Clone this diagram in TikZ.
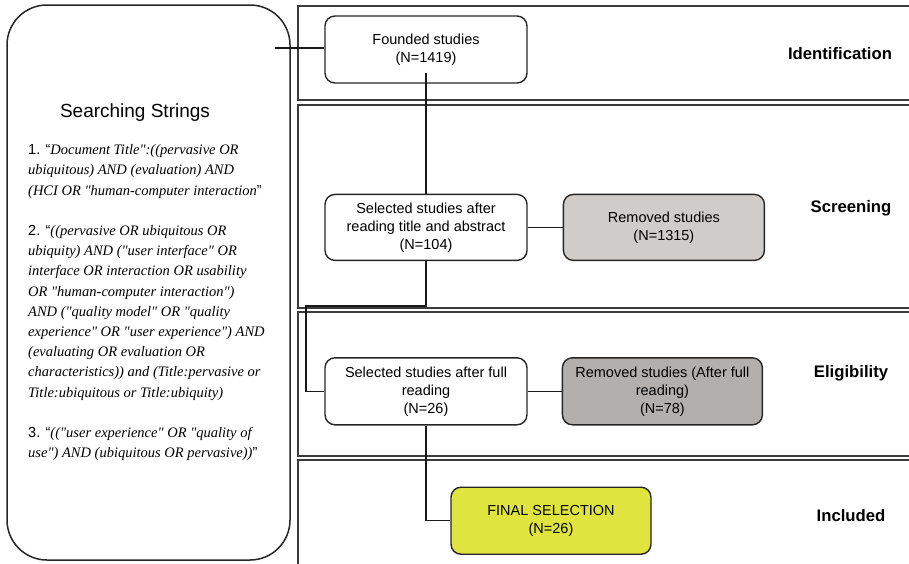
\documentclass[tikz,border=0pt]{standalone}
\usepackage{fontspec}
\setmainfont{Liberation Sans}
\newfontfamily\timesfont{Liberation Serif}
\usetikzlibrary{positioning}
\definecolor{removedlight}{RGB}{207,204,201}
\definecolor{removeddark}{RGB}{178,175,172}
\definecolor{finalyellow}{RGB}{224,228,62}
\definecolor{framegray}{RGB}{60,60,60}
\newcommand{\itemno}[1]{{\normalfont\upshape #1}}

\begin{document}
\begin{tikzpicture}[
    x=1pt, y=-1pt,
    studybox/.style={draw=black!85, line width=1.4pt, rounded corners=10pt, minimum width=202pt, minimum height=66pt, align=center, inner sep=2pt, font=\fontsize{14.5}{18}\selectfont},
    stagelbl/.style={font=\bfseries\fontsize{16.7}{20}\selectfont},
    panel/.style={draw=framegray, line width=1.5pt},
    link/.style={draw=black!90, line width=1.2pt}
]
    \clip (0,0) rectangle (909,563);

    % stage panels
    \foreach \ya/\yb in {6/100, 105/308, 312/456, 460/575}
        \draw[panel] (298,\ya) rectangle (925,\yb);

    % search strings
    \node[draw=black!85, line width=1.5pt, rounded corners=40pt, minimum width=283pt, minimum height=555pt] (search) at (148.5,282.5) {};
    \node[anchor=base, font=\fontsize{19}{22}\selectfont] (title) at (135,117) {Searching Strings};
    \node[anchor=north west, inner sep=0pt, align=left, font=\timesfont\itshape\fontsize{14.5}{20.2}\selectfont] (strings) at (28,144.5) {
        \itemno{1. “}Document Title":((pervasive OR\\
        ubiquitous) AND (evaluation) AND\\
        (HCI OR "human-computer interaction\itemno{"}\\[20.2pt]
        \itemno{2. “}((pervasive OR ubiquitous OR\\
        ubiquity) AND ("user interface" OR\\
        interface OR interaction OR usability\\
        OR "human-computer interaction")\\
        AND ("quality model" OR "quality\\
        experience" OR "user experience") AND\\
        (evaluating OR evaluation OR\\
        characteristics)) and (Title:pervasive or\\
        Title:ubiquitous or Title:ubiquity)\\[20.2pt]
        \itemno{3. “}(("user experience" OR "quality of\\
        use") AND (ubiquitous OR pervasive))\itemno{"}
    };

    % flow boxes
    \node[studybox, minimum height=67pt] (found) at (426,49.5) {Founded studies\\(N=1419)};
    \node[studybox] (sel1) [below=110pt of found] {Selected studies after\\reading title and abstract\\(N=104)};
    \node[studybox, fill=removedlight, minimum width=201pt] (rem1) [right=35pt of sel1] {Removed studies\\(N=1315)};
    \node[studybox, minimum height=67pt] (sel2) [below=96pt of sel1] {Selected studies after full\\reading\\(N=26)};
    \node[studybox, fill=removeddark, minimum width=200pt, minimum height=67pt] (rem2) [right=34pt of sel2] {Removed studies (After full\\reading)\\(N=78)};
    \node[studybox, fill=finalyellow, minimum width=200pt, minimum height=67pt] (final) [below=61pt of sel2, xshift=125pt] {FINAL SELECTION\\(N=26)};

    % stage names
    \node[stagelbl] (ident) at (840,54) {Identification};
    \node[stagelbl] (screen) at (851,208) {Screening};
    \node[stagelbl] (elig) at (851,373) {Eligibility};
    \node[stagelbl] (incl) at (851,516) {Included};

    % links
    \coordinate (lnk) at (275,48);
    \coordinate (bend1) at (306,306);
    \draw[link] (lnk) -- (lnk -| found.west);
    \draw[link] ([yshift=11pt]found.south) -- (sel1.north);
    \draw[link] (sel1.east) -- (rem1.west);
    \draw[link] (sel1.south) |- (bend1) |- (sel2.west);
    \draw[link] (sel2.east) -- (rem2.west);
    \draw[link] (sel2.south) |- (final.west);
\end{tikzpicture}
\end{document}
